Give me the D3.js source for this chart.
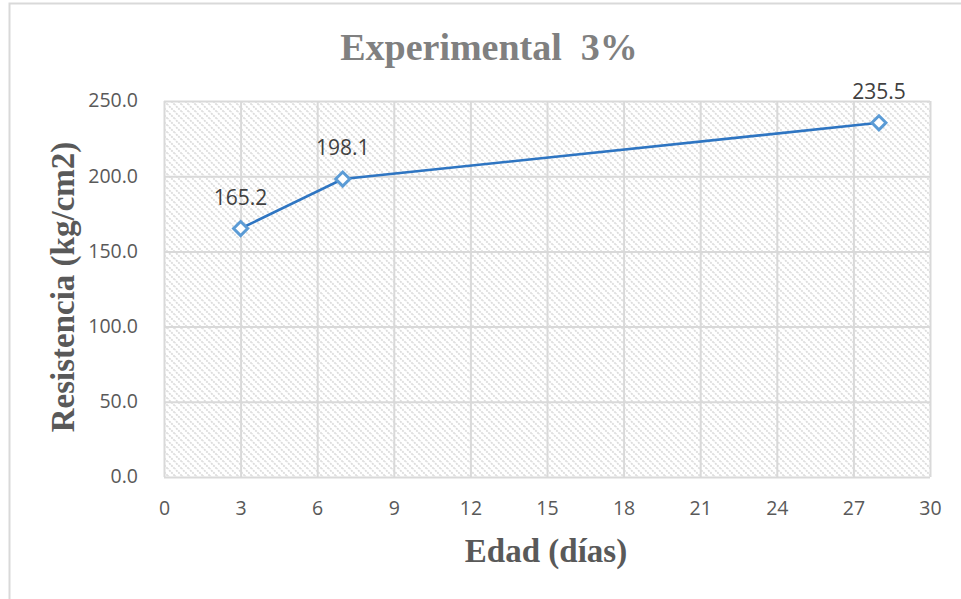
<!DOCTYPE html>
<html>
<head>
<meta charset="utf-8">
<script src="https://cdn.jsdelivr.net/npm/d3@7"></script>
<style>
  body { margin: 0; background: #fff; }
  svg { display: block; }
</style>
</head>
<body>
<svg id="SVG_CONTAINER" width="961" height="599"></svg>
<script>
// data
const edades = [3, 7, 28];
const resistencias = [165.2, 198.1, 235.5];
const xTicks = [0, 3, 6, 9, 12, 15, 18, 21, 24, 27, 30];
const yTicks = [0, 50, 100, 150, 200, 250];

const width = 961, height = 599;
const MARGIN = { LEFT: 164, RIGHT: 31, TOP: 101, BOTTOM: 122 };

let svg = d3.select("#SVG_CONTAINER");

// outer chart border (only top and left show)
svg.append("path")
    .attr("d", "M9.5,599 L9.5,3.5 L961,3.5")
    .attr("fill", "none")
    .attr("stroke", "#d9d9d9")
    .attr("stroke-width", 2);

// hatch pattern for plot area
let defs = svg.append("defs");
let pat = defs.append("pattern")
    .attr("id", "hatch")
    .attr("patternUnits", "userSpaceOnUse")
    .attr("width", 7)
    .attr("height", 7);
pat.append("path")
    .attr("d", "M-1,-1 L8,8 M-4.5,2.5 L1.5,8.5 M5.5,-1.5 L8.5,1.5")
    .attr("stroke", "#dcdcdc")
    .attr("stroke-width", 1.8)
    .attr("stroke-dasharray", "2,1");

//** SCALES *****************************************
let xScale = d3.scaleLinear()
    .domain([0, 30])
    .range([MARGIN.LEFT, width - MARGIN.RIGHT]);

let yScale = d3.scaleLinear()
    .domain([0, 250])
    .range([height - MARGIN.BOTTOM, MARGIN.TOP]);

let chart = svg.append("g").attr("class", "lineGraph");

chart.append("rect")
    .attr("x", xScale(0))
    .attr("y", yScale(250))
    .attr("width", xScale(30) - xScale(0))
    .attr("height", yScale(0) - yScale(250))
    .attr("fill", "url(#hatch)");

//** GRID *****************************************
let xGrid = d3.axisBottom(xScale)
    .tickValues(xTicks)
    .tickSize(-(yScale(0) - yScale(250)))
    .tickFormat("");
chart.append("g")
    .attr("class", "x_grid")
    .attr("transform", "translate(0," + yScale(0) + ")")
    .call(xGrid)
    .call(g => g.select(".domain").remove())
    .call(g => g.selectAll("line").attr("stroke", "#d9d9d9").attr("stroke-width", 2));

let yGrid = d3.axisLeft(yScale)
    .tickValues(yTicks)
    .tickSize(-(xScale(30) - xScale(0)))
    .tickFormat("");
chart.append("g")
    .attr("class", "y_grid")
    .attr("transform", "translate(" + xScale(0) + ",0)")
    .call(yGrid)
    .call(g => g.select(".domain").remove())
    .call(g => g.selectAll("line").attr("stroke", "#d9d9d9").attr("stroke-width", 2));

//** AXIS LABELS *****************************************
let tickFont = "'Open Sans', 'DejaVu Sans', sans-serif";

let xAxis = d3.axisBottom(xScale)
    .tickValues(xTicks)
    .tickSize(0)
    .tickPadding(24)
    .tickFormat(d3.format("d"));
chart.append("g")
    .attr("class", "x_axis")
    .attr("transform", "translate(0," + yScale(0) + ")")
    .call(xAxis)
    .call(g => g.select(".domain").remove())
    .call(g => g.selectAll("text")
        .attr("fill", "#595959")
        .style("font-family", tickFont)
        .style("font-size", "19.5px"));

let yAxis = d3.axisLeft(yScale)
    .tickValues(yTicks)
    .tickSize(0)
    .tickPadding(26)
    .tickFormat(d3.format(".1f"));
chart.append("g")
    .attr("class", "y_axis")
    .attr("transform", "translate(" + xScale(0) + ",0)")
    .call(yAxis)
    .call(g => g.select(".domain").remove())
    .call(g => g.selectAll("text")
        .attr("fill", "#595959")
        .attr("dy", "0.3em")
        .style("font-family", tickFont)
        .style("font-size", "19.5px"));

//** TITLES *****************************************
let serif = "'Liberation Serif', 'Times New Roman', serif";

svg.append("text")
    .attr("x", 489)
    .attr("y", 60)
    .attr("text-anchor", "middle")
    .attr("fill", "#808080")
    .style("font-family", serif)
    .style("font-weight", "bold")
    .style("font-size", "38px")
    .style("white-space", "pre")
    .text("Experimental  3%");

svg.append("text")
    .attr("x", 546)
    .attr("y", 562)
    .attr("text-anchor", "middle")
    .attr("fill", "#595959")
    .style("font-family", serif)
    .style("font-weight", "bold")
    .style("font-size", "33px")
    .text("Edad (días)");

svg.append("text")
    .attr("transform", "translate(74,287) rotate(-90)")
    .attr("text-anchor", "middle")
    .attr("fill", "#595959")
    .style("font-family", serif)
    .style("font-weight", "bold")
    .style("font-size", "33px")
    .text("Resistencia (kg/cm2)");

//** LINE + MARKERS *****************************************
let points = edades.map((e, i) => [e, resistencias[i]]);

chart.append("path")
    .datum(points)
    .attr("d", d3.line()
        .x(d => xScale(d[0]))
        .y(d => yScale(d[1])))
    .attr("fill", "none")
    .attr("stroke", "#2e75c2")
    .attr("stroke-width", 2.6);

chart.selectAll(".marker")
    .data(points)
    .enter()
    .append("path")
    .attr("class", "marker")
    .attr("d", "M0,-7 L7,0 L0,7 L-7,0 Z")
    .attr("transform", d => "translate(" + xScale(d[0]) + "," + yScale(d[1]) + ")")
    .attr("fill", "#fff")
    .attr("stroke", "#5b9bd5")
    .attr("stroke-width", 3);

chart.selectAll(".dlabel")
    .data(points)
    .enter()
    .append("text")
    .attr("class", "dlabel")
    .attr("x", d => xScale(d[0]))
    .attr("y", d => yScale(d[1]) - 24)
    .attr("text-anchor", "middle")
    .attr("fill", "#404040")
    .style("font-family", tickFont)
    .style("font-size", "21px")
    .text(d => d[1].toFixed(1));
</script>
</body>
</html>
